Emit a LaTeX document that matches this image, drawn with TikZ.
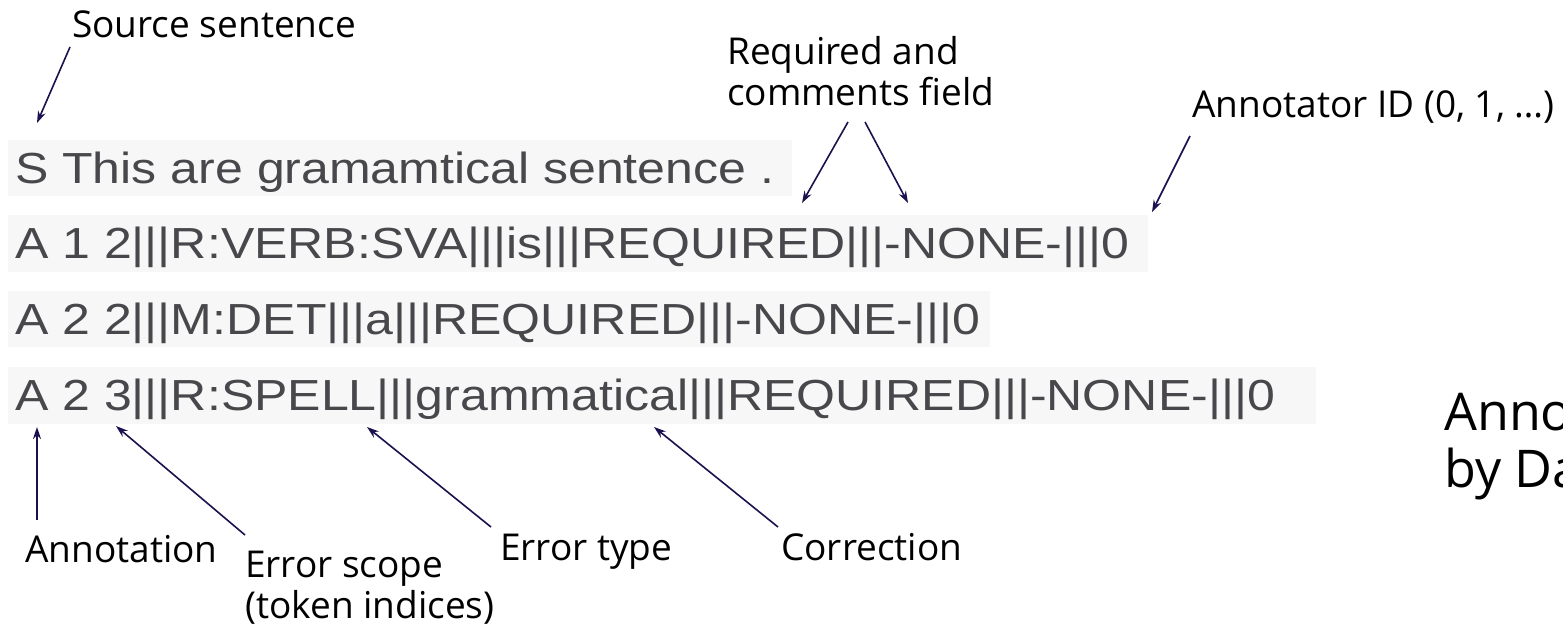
\documentclass[tikz,border=0pt]{standalone}
\usepackage{fontspec}
\setmainfont{Open Sans}
\newfontfamily\scrfont[FakeStretch=1.15]{Liberation Sans}
\usetikzlibrary{arrows.meta}
\definecolor{arrowc}{RGB}{28,16,78}
\definecolor{scrtext}{RGB}{72,72,76}
\definecolor{scrbg}{RGB}{247,247,247}
\begin{document}
\begin{tikzpicture}[x=1pt,y=-1pt,
  lab/.style={font=\fontsize{37}{41}\selectfont, inner sep=0pt, anchor=base west, align=left},
  scr/.style={font=\scrfont\fontsize{43.5}{50}\selectfont, text=scrtext, inner sep=0pt, anchor=base west},
  big/.style={font=\fontsize{52}{57}\selectfont, inner sep=0pt, anchor=base west, align=left},
  band/.style={fill=scrbg, draw=none},
  pointer/.style={draw=arrowc, line width=1.6pt, -{Stealth[length=12pt,width=8pt]}}]
\useasboundingbox (0,0) rectangle (1563,626);
\clip (0,0) rectangle (1563,626);
\fill[white] (0,0) rectangle (1563,626);

% faint screenshot bands
\path[band] (8,140) rectangle (792,196);
\path[band] (8,215) rectangle (1148,272);
\path[band] (8,291) rectangle (990,347);
\path[band] (8,367) rectangle (1316,424);

% screenshot lines
\node[scr] (s)  at (15,183) {S This are gramamtical sentence .};
\node[scr] (a1) at (15,258) {A 1 2|||R:VERB:SVA|||is|||REQUIRED|||-NONE-|||0};
\node[scr] (a2) at (15,334) {A 2 2|||M:DET|||a|||REQUIRED|||-NONE-|||0};
\node[scr] (a3) at (15,410) {A 2 3|||R:SPELL|||grammatical|||REQUIRED|||-NONE-|||0};

% labels (base anchor of a two-line node = baseline of its last line)
\node[lab] (src)   at (72,38)   {Source sentence};
\node[lab] (req)   at (727,105) {Required and\\comments field};
\node[lab] (ann)   at (1192,117) {Annotator ID (0, 1, …)};
\node[lab] (annot) at (25,562)  {Annotation};
\node[lab] (scope) at (245,618) {Error scope\\(token indices)};
\node[lab] (etype) at (500,560) {Error type};
\node[lab] (corr)  at (781,560) {Correction};
\node[big] (title) at (1444,487) {Anno\\by Da};

% connector end points
\coordinate (srcT) at (70,47);    \coordinate (srcH) at (37,123);
\coordinate (reqT1) at (848,122); \coordinate (reqH1) at (802,203);
\coordinate (reqT2) at (865,122); \coordinate (reqH2) at (908,203);
\coordinate (annT) at (1190,136); \coordinate (annH) at (1152,212);
\coordinate (annotT) at (37,520); \coordinate (annotH) at (37,427);
\coordinate (scopeT) at (245,535); \coordinate (scopeH) at (116,426);
\coordinate (etypeT) at (491,527); \coordinate (etypeH) at (367,427);
\coordinate (corrT) at (778,527);  \coordinate (corrH) at (654,427);

\draw[pointer] (srcT) -- (srcH);
\draw[pointer] (reqT1) -- (reqH1);
\draw[pointer] (reqT2) -- (reqH2);
\draw[pointer] (annT) -- (annH);
\draw[pointer] (annotT) -- (annotH);
\draw[pointer] (scopeT) -- (scopeH);
\draw[pointer] (etypeT) -- (etypeH);
\draw[pointer] (corrT) -- (corrH);
\end{tikzpicture}
\end{document}
